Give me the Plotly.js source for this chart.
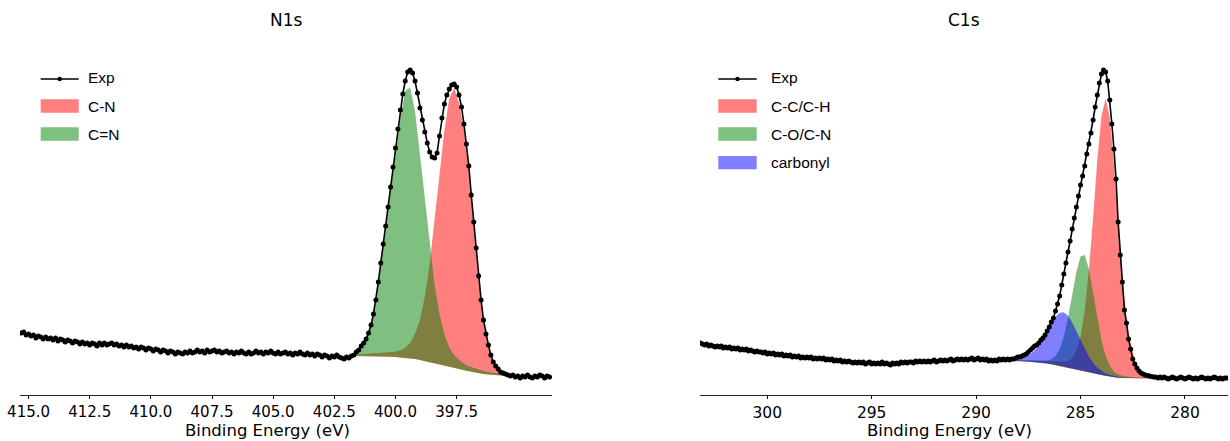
<!DOCTYPE html>
<html><head><meta charset="utf-8">
<script src="https://cdn.plot.ly/plotly-3.0.1.min.js"></script>
<style>html,body{margin:0;padding:0;background:#fff}#chart{width:1230px;height:441px}</style>
</head><body><div id="chart"></div>
<script>
// ---------- N1s spectrum (binding energy grid: start, step downward) ----------
const n1sStart = 415.3, n1sStep = 0.1;
const n1sExp = [
  67,68,65,66,64,65,62,64,63,61,      // 415.3
  63,61,62,60,62,59,61,60,58,60,      // 414.3
  59,57,59,58,56,58,56,57,55,57,      // 413.3
  56,54,57,55,57,55,56,57,55,56,      // 412.3
  54,55,53,55,53,54,52,53,51,53,      // 411.3
  52,50,52,51,49,51,50,48,50,49,      // 410.3
  47,49,48,46,48,47,46,48,47,49,      // 409.3
  47,48,50,48,49,47,50,48,49,50,      // 408.3
  48,49,47,48,49,47,48,46,48,47,      // 407.3
  49,47,46,48,46,47,49,47,48,46,      // 406.3
  48,47,49,47,46,48,46,47,48,46,      // 405.3
  47,45,47,46,48,46,45,47,45,46,      // 404.3
  44,46,45,43,45,44,42,44,43,45,      // 403.3
  43,42,41,43,42,44,45,48,50,54,      // 402.3
  57,61,67,75,86,100,118,137,156,174, // 401.3
  193,213,233,252,271,290,306,319,328,330, // 400.3
  327,319,307,292,280,268,257,248,243,242, // 399.3
  247,264,282,296,305,311,315,316,313,305, // 398.3
  293,276,256,234,205,178,152,124,100,80,  // 397.3
  66,55,45,38,34,31,28,27,26,25,      // 396.3
  24,25,23,24,22,24,23,25,23,22,      // 395.3
  24,23,25,24,22,24,23                // 394.3 .. 393.7
];
const n1sFitE = [402.0,401.8,401.6,401.4,401.2,401.0,400.8,400.6,400.4,400.2,400.0,399.8,399.6,399.4,399.2,399.0,398.8,398.6,398.4,398.2,398.0,397.8,397.6,397.4,397.2,397.0,396.8,396.6,396.4,396.2,396.0,395.8,395.6,395.4,395.2];
const n1sBg  = [44,44,44,44,44,43.9,43.8,43.6,43.4,43.2,43,42.6,42.2,41.6,40.9,40.1,39.2,38.2,37.1,35.9,34.7,33.4,32.1,30.9,29.8,28.8,27.8,26.9,26.1,25.5,25,24.6,24.3,24.1,24];
const n1sCN  = [0,1.2,1.5,1.8,2.0,2.3,2.6,3,3.5,4.2,5.2,7,10,15.5,25,40,64,98,142,190,235,268,280,266,241,200,147,94,52,28,12,5,2,1,0];
const n1sCeqN= [0,0.5,2.5,8,15,29,54,90,127,166,203,239,267,271,248,206,160,116,78,50,31,19,13,9,6.5,5,4.2,3.6,3,2.6,2.2,1.8,1.2,0.6,0];

// ---------- C1s spectrum ----------
const c1sStart = 303.2, c1sStep = 0.1;
const c1sExp = [
  57,56,55,56,54,55,54,53,54,53,      // 303.2
  54,52,53,52,53,51,52,51,52,50,      // 302.2
  51,50,51,49,50,49,48,49,48,48,      // 301.2
  47,48,46,47,46,47,45,46,45,46,      // 300.2
  44,45,44,45,43,44,43,44,42,43,      // 299.2
  42,43,42,43,41,42,41,42,41,42,      // 298.2
  40,41,40,41,39,40,39,40,38,39,      // 297.2
  38,39,38,37,38,37,38,37,38,36,      // 296.2
  37,38,36,37,36,37,36,38,36,37,      // 295.2
  36,35,37,36,37,36,38,37,38,37,      // 294.2
  38,38,37,39,38,39,38,39,38,39,      // 293.2
  38,39,40,38,39,40,39,40,39,40,      // 292.2
  41,39,40,41,40,41,40,41,40,41,      // 291.2
  42,40,41,42,40,41,40,41,39,40,      // 290.2
  39,40,39,41,40,41,40,41,40,41,      // 289.2
  41,42,43,43,44,45,46,48,50,52,      // 288.2
  54,55,57,60,62,65,69,73,78,82,      // 287.2
  89,96,104,115,126,137,148,159,171,182,   // 286.2
  193,204,215,224,234,246,256,267,280,293, // 285.2
  305,317,326,330,328,319,300,276,251,221, // 284.2
  178,145,118,90,77,61,51,41,36,32,   // 283.2
  29,27,26,25,24.5,24,23.5,23,23,22,  // 282.2
  23,22,23,22,21,22,23,22,21,22,      // 281.2
  23,22,21,22,23,22,21,22,21,22,      // 280.2
  23,22,21,22,21,22,23,22,21,22,      // 279.2
  21,22,22                            // 278.2 .. 278.0
];
const c1sFitE = [289.0,288.8,288.6,288.4,288.2,288.0,287.8,287.6,287.4,287.2,287.0,286.8,286.6,286.4,286.2,286.0,285.8,285.6,285.4,285.2,285.0,284.8,284.6,284.4,284.2,284.0,283.8,283.6,283.4,283.2,283.0,282.8,282.6,282.4,282.2,282.0,281.8,281.6,281.4,281.2,281.0];
const c1sBg  = [39.5,39.4,39.3,39.2,39.1,39,38.8,38.6,38.3,38,37.6,37.1,36.6,36,35.3,34.5,33.7,32.8,31.9,31,30,29,28,27,26,25.1,24.2,23.4,22.8,22.3,22,21.8,21.7,21.6,21.6,21.5,21.5,21.5,21.5,21.5,21.5];
const c1sCC  = [0,0.7,0.8,0.85,0.9,1.0,1.1,1.2,1.4,1.5,1.7,1.9,2.2,2.6,3.0,3.7,4.5,6.2,10.1,17.9,33.2,60.6,102,155,213,259,277,259,213,155,102,60.6,33.2,17.9,8,4,2,1,0.5,0.2,0];
const c1sCO  = [0,0.5,0.5,0.6,0.65,0.7,0.8,0.9,1.1,1.3,1.6,2.0,2.9,4.8,8.8,16.5,29.8,49.5,73.3,97,113.6,116,103,80.7,56,35,19.8,10.8,5.8,3.3,2.2,1.6,1.3,1.1,1.0,0.85,0.75,0.65,0.5,0.3,0];
const c1sCarb= [0,0.71,0.8,1.04,1.4,2.0,3.1,4.8,7.6,11.6,17.3,24.2,32.3,40.6,47.8,52.7,54,51.5,45.7,37.8,29.9,22,15.4,10.3,6.6,4.2,2.6,1.9,1.35,1.06,0.84,0.67,0.6,0.52,0.47,0.42,0.38,0.35,0.32,0.2,0];

// tick labels
const n1sTicks = [415.0,412.5,410.0,407.5,405.0,402.5,400.0,397.5];
const n1sTickText = ['415.0','412.5','410.0','407.5','405.0','402.5','400.0','397.5'];
const c1sTicks = [300,295,290,285,280];
const c1sTickText = ['300','295','290','285','280'];

// ---------- helpers ----------
function grid(start, step, n){ const a=[]; for(let i=0;i<n;i++) a.push(+(start - i*step).toFixed(2)); return a; }
function peakPoly(E, bg, comp){
  const top = E.map((e,i)=>bg[i]+comp[i]);
  return { x: E.concat(E.slice().reverse()), y: top.concat(bg.slice().reverse()) };
}
const RED='rgba(255,0,0,0.5)', GREEN='rgba(0,128,0,0.5)', BLUE='rgba(0,0,255,0.5)';
function fillTrace(E,bg,comp,color,xa,ya,name){
  const p = peakPoly(E,bg,comp);
  return {type:'scatter', mode:'lines', x:p.x, y:p.y, fill:'toself', fillcolor:color,
          line:{width:0, color:color}, xaxis:xa, yaxis:ya, name:name, hoverinfo:'skip', showlegend:false};
}
function expTrace(start, step, vals, xa, ya){
  return {type:'scatter', mode:'lines+markers', x:grid(start,step,vals.length), y:vals,
          line:{color:'#000', width:1.6}, marker:{color:'#000', size:5},
          xaxis:xa, yaxis:ya, name:'Exp', showlegend:false};
}

const data = [
  fillTrace(n1sFitE,n1sBg,n1sCN,RED,'x','y','C-N'),
  fillTrace(n1sFitE,n1sBg,n1sCeqN,GREEN,'x','y','C=N'),
  expTrace(n1sStart,n1sStep,n1sExp,'x','y'),
  fillTrace(c1sFitE,c1sBg,c1sCC,RED,'x2','y2','C-C/C-H'),
  fillTrace(c1sFitE,c1sBg,c1sCO,GREEN,'x2','y2','C-O/C-N'),
  fillTrace(c1sFitE,c1sBg,c1sCarb,BLUE,'x2','y2','carbonyl'),
  expTrace(c1sStart,c1sStep,c1sExp,'x2','y2')
];

// pixel -> paper helpers for legend / titles (plot area: x 20..1228, y 52..395)
const PX = p => (p-20)/1208, PY = p => (395-p)/343;

const FONT = 'DejaVu Sans, sans-serif';
const LFONT = 'Liberation Sans, Arial, sans-serif';
const xCommon = {
  ticks:'outside', ticklen:3, tickwidth:1, tickcolor:'#000',
  showline:true, linecolor:'#222', linewidth:1, showgrid:false, zeroline:false
};
const yCommon = {range:[5,348], visible:false, showgrid:false, zeroline:false, fixedrange:true};

const shapes = [], annotations = [];
function legendBlock(x0, x1, textX, items){
  items.forEach(it=>{
    if(it.type==='line'){
      shapes.push({type:'line', xref:'paper', yref:'paper', x0:PX(x0), x1:PX(x1), y0:PY(it.y), y1:PY(it.y), line:{color:'#000', width:1.4}});
      const cx=(x0+x1)/2;
      shapes.push({type:'circle', xref:'paper', yref:'paper', x0:PX(cx-2.2), x1:PX(cx+2.2), y0:PY(it.y+2.2), y1:PY(it.y-2.2), fillcolor:'#000', line:{width:0}});
      annotations.push({xref:'paper', yref:'paper', x:PX(textX), y:PY(it.ty), xanchor:'left', yanchor:'middle', text:it.label, showarrow:false, font:{family:LFONT, size:15.5, color:'#000'}});
    } else {
      shapes.push({type:'rect', xref:'paper', yref:'paper', x0:PX(x0), x1:PX(x1), y0:PY(it.y+6.7), y1:PY(it.y-6.7), fillcolor:it.color, line:{width:0}});
      annotations.push({xref:'paper', yref:'paper', x:PX(textX), y:PY(it.y), xanchor:'left', yanchor:'middle', text:it.label, showarrow:false, font:{family:LFONT, size:15.5, color:'#000'}});
    }
  });
}
legendBlock(40.7, 78.7, 86, [
  {type:'line', y:79, ty:77, label:'Exp'},
  {type:'rect', y:106, color:RED, label:'C-N'},
  {type:'rect', y:134, color:GREEN, label:'C=N'}
]);
legendBlock(718.3, 756.7, 768.5, [
  {type:'line', y:79, ty:77, label:'Exp'},
  {type:'rect', y:106, color:RED, label:'C-C/C-H'},
  {type:'rect', y:134, color:GREEN, label:'C-O/C-N'},
  {type:'rect', y:162.6, color:BLUE, label:'carbonyl'}
]);
// panel titles
annotations.push({xref:'paper', yref:'paper', x:PX(286), y:PY(20), xanchor:'center', yanchor:'middle', text:'N1s', showarrow:false, font:{family:FONT, size:17, color:'#000'}});
annotations.push({xref:'paper', yref:'paper', x:PX(964), y:PY(20), xanchor:'center', yanchor:'middle', text:'C1s', showarrow:false, font:{family:FONT, size:17, color:'#000'}});
// x-axis labels
annotations.push({xref:'paper', yref:'paper', x:PX(267), y:PY(441), xanchor:'center', yanchor:'bottom', text:'Binding Energy (eV)', showarrow:false, borderpad:0, font:{family:FONT, size:16.5, color:'#000'}});
annotations.push({xref:'paper', yref:'paper', x:PX(949), y:PY(441), xanchor:'center', yanchor:'bottom', text:'Binding Energy (eV)', showarrow:false, borderpad:0, font:{family:FONT, size:16.5, color:'#000'}});

const layout = {
  width:1230, height:441,
  margin:{l:20, r:2, t:52, b:46, pad:0},
  paper_bgcolor:'#fff', plot_bgcolor:'#fff',
  showlegend:false,
  xaxis: Object.assign({}, xCommon, {domain:[0, PX(552)], range:[415.35, 393.6], tickvals:n1sTicks, ticktext:n1sTickText, anchor:'y', tickfont:{family:FONT, size:15, color:'#000'}}),
  yaxis: Object.assign({}, yCommon, {domain:[0,1], anchor:'x'}),
  xaxis2: Object.assign({}, xCommon, {domain:[PX(700), 1], range:[303.22, 277.94], tickvals:c1sTicks, ticktext:c1sTickText, anchor:'y2', tickfont:{family:FONT, size:15.5, color:'#000'}}),
  yaxis2: Object.assign({}, yCommon, {domain:[0,1], anchor:'x2'}),
  shapes:shapes, annotations:annotations
};
Plotly.newPlot('chart', data, layout, {displayModeBar:false, staticPlot:true});
</script>
</body></html>
